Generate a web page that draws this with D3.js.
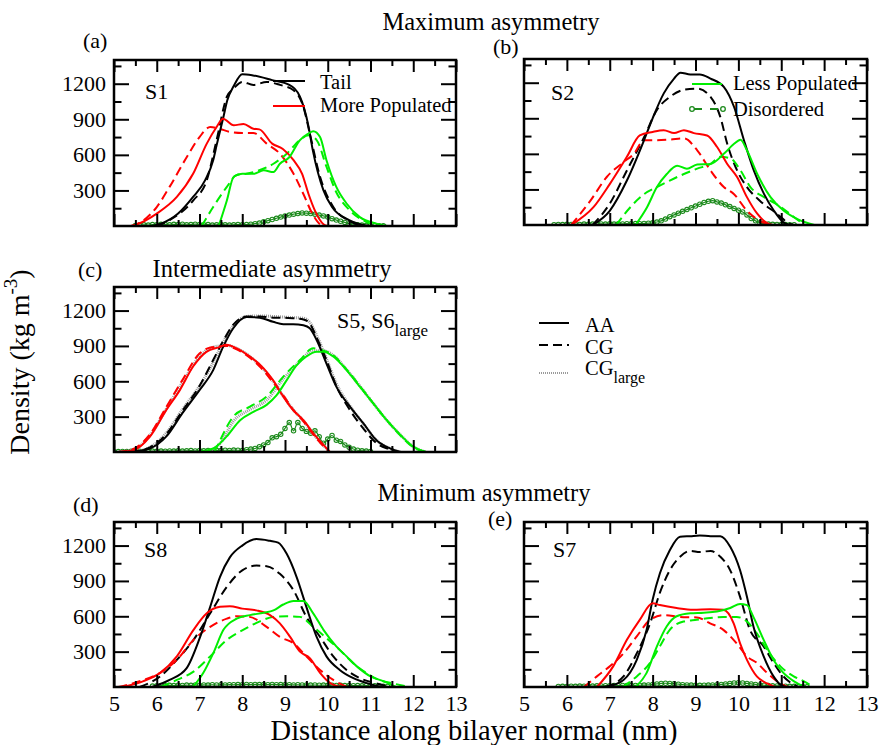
<!DOCTYPE html>
<html>
<head>
<meta charset="utf-8">
<script src="https://cdn.jsdelivr.net/npm/d3@7"></script>
<style>
  body { margin: 0; background: #fff; }
  svg { display: block; font-family: "Liberation Serif", "Times New Roman", serif; }
</style>
</head>
<body>
<svg id="chart" width="880" height="745"></svg>
<script>
// axis ticks
const xMajor = [5, 6, 7, 8, 9, 10, 11, 12, 13];
const xMinor = [5.5, 6.5, 7.5, 8.5, 9.5, 10.5, 11.5, 12.5];
const yMajor = [300, 600, 900, 1200];
const yMinor = [150, 450, 750, 1050, 1350];

// ---- (a) S1, maximum asymmetry
const aTailAA = [[5.9,0],[6.1,20],[6.5,105],[6.85,245],[7.13,385],[7.32,555],[7.4,680],[7.56,920],[7.65,1060],[7.8,1180],[8.0,1280],[8.25,1270],[8.7,1230],[9.1,1190],[9.35,1090],[9.55,840],[9.65,640],[9.9,300],[10.1,160],[10.5,50],[10.75,15],[11.0,0]];
const aTailCG = [[6.0,0],[6.3,50],[6.85,215],[7.17,385],[7.4,725],[7.64,1090],[7.8,1160],[8.0,1215],[8.26,1190],[8.57,1215],[8.88,1190],[9.2,1145],[9.43,1005],[9.58,780],[9.82,415],[10.13,160],[10.52,40],[10.8,0]];
const aMoreAA = [[5.4,0],[5.5,10],[6.0,105],[6.47,245],[6.85,440],[7.17,695],[7.4,835],[7.55,905],[7.8,850],[8.03,860],[8.26,820],[8.4,815],[8.7,695],[8.95,650],[9.2,555],[9.4,440],[9.55,270],[9.7,130],[9.9,15],[10.0,0]];
const aMoreCG = [[5.4,0],[5.5,10],[6.0,160],[6.3,330],[6.7,580],[7.0,750],[7.25,835],[7.47,820],[7.7,795],[8.0,785],[8.26,785],[8.57,695],[8.88,610],[9.2,440],[9.43,270],[9.66,90],[9.82,15],[9.95,0]];
const aLessAA = [[7.45,0],[7.64,215],[7.8,415],[8.0,440],[8.26,440],[8.5,470],[8.73,455],[8.88,525],[9.1,580],[9.35,725],[9.55,780],[9.66,800],[9.82,750],[9.97,555],[10.2,330],[10.44,190],[10.75,75],[11.14,20],[11.4,0]];
const aLessCG = [[7.05,0],[7.32,160],[7.64,330],[7.87,430],[8.1,440],[8.4,470],[8.73,525],[9.04,610],[9.35,725],[9.55,765],[9.74,725],[9.97,500],[10.2,285],[10.52,130],[10.9,35],[11.2,0]];
const aDis = [[5.5,5],[5.6,8],[5.7,10],[5.8,8],[5.9,12],[6.0,10],[6.1,14],[6.2,12],[6.3,10],[6.4,14],[6.5,12],[6.6,15],[6.7,10],[6.8,12],[6.9,15],[7.0,12],[7.1,10],[7.2,12],[7.3,8],[7.4,10],[7.5,12],[7.6,10],[7.7,8],[7.8,10],[7.9,12],[8.0,10],[8.1,12],[8.2,15],[8.3,20],[8.4,25],[8.5,35],[8.6,45],[8.7,55],[8.8,65],[8.9,75],[9.0,85],[9.1,92],[9.2,100],[9.3,105],[9.4,110],[9.5,108],[9.6,105],[9.7,100],[9.8,92],[9.9,85],[10.0,75],[10.1,62],[10.2,50],[10.3,40],[10.4,30],[10.5,20],[10.6,15],[10.7,10],[10.8,8],[10.9,6],[11.0,5],[11.1,4],[11.2,3],[11.3,2]];

// ---- (b) S2
const bTailAA = [[6.6,0],[7.0,120],[7.4,375],[7.8,715],[8.0,900],[8.26,1110],[8.5,1235],[8.65,1285],[8.88,1270],[9.1,1270],[9.35,1235],[9.66,1165],[9.9,995],[10.13,715],[10.36,460],[10.6,260],[10.83,120],[11.06,20],[11.2,0]];
const bTailCG = [[6.6,0],[7.0,180],[7.4,460],[7.8,740],[8.1,970],[8.4,1080],[8.73,1140],[9.04,1150],[9.35,1080],[9.58,910],[9.74,685],[9.97,460],[10.2,320],[10.5,205],[10.9,95],[11.2,10],[11.3,0]];
const bMoreAA = [[6.1,0],[6.62,150],[7.0,345],[7.4,575],[7.7,755],[8.0,785],[8.26,800],[8.5,775],[8.73,800],[8.96,775],[9.27,755],[9.5,660],[9.74,515],[9.97,405],[10.2,235],[10.44,95],[10.67,15],[10.8,0]];
const bMoreCG = [[6.1,0],[6.55,205],[6.93,405],[7.32,530],[7.56,600],[7.8,715],[8.1,715],[8.4,720],[8.73,730],[9.04,630],[9.35,460],[9.66,320],[9.9,260],[10.2,120],[10.5,35],[10.75,0]];
const bLessAA = [[7.6,0],[7.87,150],[8.1,320],[8.33,430],[8.57,500],[8.8,475],[9.04,510],[9.35,515],[9.66,600],[9.9,685],[10.05,720],[10.2,630],[10.44,430],[10.75,235],[11.06,120],[11.38,50],[11.77,0]];
const bLessCG = [[7.15,0],[7.48,150],[7.8,260],[8.1,320],[8.4,375],[8.73,430],[9.04,475],[9.35,515],[9.58,575],[9.82,560],[10.05,460],[10.28,320],[10.6,235],[11.0,150],[11.3,65],[11.55,0]];
const bDis = [[5.7,3],[5.8,5],[5.9,4],[6.0,6],[6.1,5],[6.2,7],[6.3,5],[6.4,8],[6.5,6],[6.6,8],[6.7,7],[6.8,9],[6.9,8],[7.0,10],[7.1,8],[7.2,10],[7.3,9],[7.4,11],[7.5,10],[7.6,12],[7.7,11],[7.8,13],[7.9,15],[8.0,18],[8.1,25],[8.2,35],[8.3,50],[8.4,70],[8.5,85],[8.6,100],[8.7,115],[8.8,130],[8.9,145],[9.0,160],[9.1,175],[9.2,190],[9.3,200],[9.4,205],[9.5,195],[9.6,185],[9.7,170],[9.8,155],[9.9,140],[10.0,125],[10.1,110],[10.2,85],[10.3,55],[10.4,35],[10.5,20],[10.6,12],[10.7,8],[10.8,6],[10.9,5],[11.0,4],[11.1,4],[11.2,3],[11.3,2]];

// ---- (c) S5, S6large, intermediate asymmetry
const cTailAA = [[5.4,0],[5.84,30],[6.22,130],[6.6,330],[7.0,525],[7.32,695],[7.55,890],[7.79,1050],[8.1,1145],[8.41,1140],[8.72,1105],[8.96,1085],[9.19,1085],[9.43,1075],[9.58,1050],[9.74,950],[9.97,750],[10.2,555],[10.52,385],[10.83,245],[11.14,100],[11.46,30],[11.7,0]];
const cTailCG = [[5.4,0],[5.84,40],[6.22,150],[6.6,350],[7.0,560],[7.32,780],[7.55,940],[7.79,1080],[8.1,1150],[8.41,1150],[8.72,1140],[8.96,1140],[9.19,1135],[9.43,1125],[9.58,1090],[9.74,970],[9.97,780],[10.2,560],[10.52,355],[10.83,200],[11.14,75],[11.46,20],[11.6,0]];
const cTailLG = [[5.4,0],[5.84,40],[6.22,160],[6.6,360],[7.0,560],[7.32,760],[7.55,930],[7.79,1070],[8.1,1150],[8.41,1155],[8.72,1150],[8.96,1145],[9.19,1140],[9.43,1135],[9.58,1100],[9.74,990],[9.97,790],[10.2,580],[10.52,390],[10.83,240],[11.14,100],[11.46,30],[11.7,0]];
const cMoreAA = [[5.1,0],[5.45,15],[5.84,130],[6.22,355],[6.54,525],[6.85,725],[7.16,850],[7.47,890],[7.63,910],[7.87,880],[8.18,810],[8.5,710],[8.72,610],[8.96,470],[9.19,355],[9.43,270],[9.66,160],[9.9,60],[10.05,0]];
const cMoreCG = [[5.1,0],[5.45,25],[5.84,150],[6.22,380],[6.6,610],[7.0,835],[7.24,885],[7.47,895],[7.63,900],[7.87,870],[8.18,800],[8.5,690],[8.72,590],[8.96,480],[9.19,360],[9.43,260],[9.66,150],[9.9,50],[10.05,0]];
const cMoreLG = [[5.1,0],[5.45,20],[5.84,140],[6.22,365],[6.6,590],[7.0,810],[7.24,880],[7.47,900],[7.63,905],[7.87,880],[8.18,810],[8.5,700],[8.72,600],[8.96,475],[9.19,360],[9.43,265],[9.66,155],[9.9,55],[10.05,0]];
const cLessAA = [[6.95,0],[7.32,30],[7.63,130],[7.95,270],[8.26,340],[8.57,400],[8.8,480],[9.04,610],[9.27,735],[9.5,810],[9.74,850],[9.9,850],[10.13,810],[10.44,695],[10.75,555],[11.07,410],[11.38,270],[11.7,145],[12.0,45],[12.3,0]];
const cLessCG = [[7.35,0],[7.45,75],[7.79,300],[8.18,385],[8.57,470],[8.96,640],[9.35,780],[9.66,880],[9.9,860],[10.13,820],[10.44,700],[10.75,560],[11.07,410],[11.38,270],[11.7,140],[12.0,40],[12.3,0]];
const cLessLG = [[7.2,0],[7.5,80],[7.79,260],[8.18,360],[8.57,440],[8.96,620],[9.35,770],[9.66,860],[9.9,860],[10.13,820],[10.44,700],[10.75,560],[11.07,410],[11.38,270],[11.7,145],[12.0,45],[12.3,0]];
const cDis = [[5.0,3],[5.1,4],[5.2,5],[5.3,4],[5.4,6],[5.5,5],[5.6,7],[5.7,5],[5.8,6],[5.9,8],[6.0,6],[6.1,8],[6.2,7],[6.3,9],[6.4,8],[6.5,10],[6.6,8],[6.7,10],[6.8,12],[6.9,9],[7.0,12],[7.1,10],[7.2,13],[7.3,11],[7.4,14],[7.5,12],[7.6,15],[7.7,13],[7.8,16],[7.9,15],[8.0,12],[8.1,20],[8.2,25],[8.3,30],[8.4,45],[8.5,60],[8.6,80],[8.7,120],[8.8,130],[8.9,150],[9.0,200],[9.1,250],[9.2,180],[9.3,250],[9.4,200],[9.5,175],[9.6,160],[9.7,180],[9.8,130],[9.9,75],[10.0,110],[10.1,140],[10.2,100],[10.3,90],[10.4,60],[10.5,40],[10.6,25],[10.7,15],[10.8,10],[10.9,8],[11.0,5]];

// ---- (d) S8, minimum asymmetry
const dTailAA = [[5.9,0],[6.3,60],[6.7,160],[7.0,410],[7.25,680],[7.48,935],[7.71,1100],[8.0,1200],[8.33,1255],[8.65,1240],[8.84,1225],[9.04,1130],[9.27,935],[9.5,680],[9.74,425],[9.97,260],[10.28,145],[10.6,75],[10.9,35],[11.2,5],[11.3,0]];
const dTailCG = [[5.6,0],[6.08,90],[6.47,230],[6.86,400],[7.25,625],[7.64,850],[8.0,990],[8.33,1030],[8.57,1025],[8.88,960],[9.2,820],[9.5,595],[9.82,425],[10.13,260],[10.44,145],[10.75,75],[11.14,30],[11.5,0]];
const dMoreAA = [[5.2,0],[5.69,50],[6.08,120],[6.47,260],[6.86,485],[7.17,625],[7.48,680],[7.71,685],[8.0,665],[8.33,650],[8.65,610],[8.88,540],[9.12,425],[9.35,300],[9.58,245],[9.82,120],[10.05,35],[10.3,0]];
const dMoreCG = [[5.1,0],[5.69,60],[6.08,120],[6.47,230],[6.86,400],[7.25,510],[7.64,580],[7.87,600],[8.17,595],[8.57,510],[8.88,425],[9.2,370],[9.5,260],[9.82,145],[10.13,60],[10.45,0]];
const dLessAA = [[6.85,0],[7.09,120],[7.32,285],[7.56,485],[7.87,580],[8.18,610],[8.5,630],[8.73,650],[8.96,700],[9.2,730],[9.43,730],[9.66,625],[9.9,485],[10.2,345],[10.44,260],[10.68,175],[11.0,90],[11.3,50],[11.6,0]];
const dLessCG = [[6.1,0],[6.47,60],[6.86,130],[7.25,260],[7.64,400],[8.02,485],[8.4,555],[8.73,595],[9.04,600],[9.35,595],[9.66,510],[9.97,415],[10.28,315],[10.6,200],[10.9,120],[11.2,60],[11.53,30],[11.9,0]];
const dDis = [[5.9,8],[6.0,10],[6.1,12],[6.2,10],[6.3,14],[6.4,12],[6.5,15],[6.6,13],[6.7,16],[6.8,14],[6.9,17],[7.0,15],[7.1,18],[7.2,16],[7.3,19],[7.4,17],[7.5,20],[7.6,18],[7.7,20],[7.8,19],[7.9,21],[8.0,20],[8.1,22],[8.2,20],[8.3,22],[8.4,21],[8.5,22],[8.6,20],[8.7,22],[8.8,20],[8.9,21],[9.0,19],[9.1,20],[9.2,18],[9.3,19],[9.4,17],[9.5,18],[9.6,16],[9.7,17],[9.8,15],[9.9,16],[10.0,14],[10.1,15],[10.2,13],[10.3,14],[10.4,12],[10.5,13],[10.6,11],[10.7,12],[10.8,10],[10.9,11],[11.0,9],[11.1,10],[11.2,8],[11.3,7],[11.4,5]];

// ---- (e) S7
const eTailAA = [[6.9,0],[7.32,60],[7.63,230],[7.86,485],[8.0,740],[8.17,965],[8.4,1160],[8.64,1275],[8.88,1280],[9.1,1285],[9.35,1280],[9.58,1280],[9.81,1190],[10.04,990],[10.2,765],[10.35,515],[10.59,260],[10.82,90],[10.98,20],[11.1,0]];
const eTailCG = [[6.9,0],[7.32,90],[7.63,285],[7.94,540],[8.17,800],[8.4,990],[8.64,1105],[8.88,1155],[9.1,1145],[9.35,1155],[9.58,1105],[9.81,990],[10.04,765],[10.27,485],[10.59,345],[10.82,205],[11.05,90],[11.29,20],[11.4,0]];
const eMoreAA = [[6.7,0],[7.08,175],[7.4,400],[7.7,570],[8.0,710],[8.17,695],[8.56,670],[8.95,655],[9.34,660],[9.65,655],[9.89,540],[10.04,370],[10.2,230],[10.43,90],[10.67,30],[10.85,0]];
const eMoreCG = [[6.4,0],[6.7,90],[7.0,175],[7.32,285],[7.63,430],[7.94,570],[8.25,610],[8.64,595],[9.03,590],[9.34,540],[9.65,485],[9.96,370],[10.2,260],[10.43,205],[10.67,120],[10.98,30],[11.15,0]];
const eLessAA = [[7.6,0],[7.86,120],[8.1,345],[8.33,515],[8.56,600],[8.88,625],[9.19,630],[9.5,640],[9.81,670],[10.04,705],[10.2,695],[10.35,595],[10.59,400],[10.82,230],[11.05,120],[11.29,50],[11.55,0]];
const eLessCG = [[7.3,0],[7.63,90],[7.94,205],[8.17,345],[8.4,485],[8.72,555],[9.03,570],[9.34,585],[9.65,595],[9.96,595],[10.2,555],[10.43,455],[10.67,315],[10.98,175],[11.29,90],[11.52,50],[11.75,0]];
const eDis = [[5.8,5],[5.9,6],[6.0,5],[6.1,7],[6.2,6],[6.3,8],[6.4,7],[6.5,9],[6.6,8],[6.7,10],[6.8,9],[6.9,11],[7.0,10],[7.1,12],[7.2,11],[7.3,13],[7.4,12],[7.5,14],[7.6,13],[7.7,15],[7.8,16],[7.9,18],[8.0,22],[8.1,26],[8.2,30],[8.3,32],[8.4,30],[8.5,28],[8.6,24],[8.7,20],[8.8,18],[8.9,16],[9.0,15],[9.1,14],[9.2,15],[9.3,16],[9.4,18],[9.5,20],[9.6,22],[9.7,26],[9.8,30],[9.9,34],[10.0,36],[10.1,34],[10.2,30],[10.3,26],[10.4,22],[10.5,18],[10.6,15],[10.7,12],[10.8,10],[10.9,9],[11.0,8],[11.1,7],[11.2,6],[11.3,6],[11.4,5],[11.5,4],[11.6,3]];

// colours and line styles
const colors = { tail: "#000000", more: "#ff0000", less: "#00ee00", dis: "#1b8a1b", large: "#9a9a9a" };
const dashCG = "9 5";
const serif = '"Liberation Serif", "Times New Roman", serif';

// panel layout (pixel boxes)
const panels = [
  { box: [114, 60, 456, 226], yLabels: true,  xLabels: false, label: "(a)", labelAt: [83, 48],  name: "S1", nameAt: [145, 99],
    aa: [aTailAA, aMoreAA, aLessAA], cg: [aTailCG, aMoreCG, aLessCG], dis: aDis },
  { box: [524, 59, 867, 225], yLabels: false, xLabels: false, label: "(b)", labelAt: [493, 54], name: "S2", nameAt: [551, 100],
    aa: [bTailAA, bMoreAA, bLessAA], cg: [bTailCG, bMoreCG, bLessCG], dis: bDis },
  { box: [114, 287, 456, 452], yLabels: true, xLabels: false, label: "(c)", labelAt: [78, 277], name: "S5, S6", sub: "large", nameAt: [337, 328],
    aa: [cTailAA, cMoreAA, cLessAA], cg: [cTailCG, cMoreCG, cLessCG], lg: [cTailLG, cMoreLG, cLessLG], dis: cDis },
  { box: [114, 522, 456, 687], yLabels: true, xLabels: true, label: "(d)", labelAt: [73, 512], name: "S8", nameAt: [144, 557],
    aa: [dTailAA, dMoreAA, dLessAA], cg: [dTailCG, dMoreCG, dLessCG], dis: dDis },
  { box: [524, 522, 867, 687], yLabels: false, xLabels: true, label: "(e)", labelAt: [488, 526], name: "S7", nameAt: [553, 557],
    aa: [eTailAA, eMoreAA, eLessAA], cg: [eTailCG, eMoreCG, eLessCG], dis: eDis }
];
const seriesColor = [colors.tail, colors.more, colors.less];

const svg = d3.select("#chart");
svg.append("rect").attr("width", 880).attr("height", 745).attr("fill", "#fff");

function drawPanel(p, i) {
  const [x0, y0, x1, y1] = p.box;
  const x = d3.scaleLinear().domain([5, 13]).range([x0, x1]);
  const y = d3.scaleLinear().domain([0, 1400]).range([y1, y0]);
  const g = svg.append("g");

  g.append("clipPath").attr("id", "clip" + i)
    .append("rect").attr("x", x0).attr("y", y0).attr("width", x1 - x0).attr("height", y1 - y0);

  const line = d3.line().x(d => x(d[0])).y(d => y(d[1])).curve(d3.curveMonotoneX);
  const plot = g.append("g").attr("clip-path", `url(#clip${i})`);

  // disordered: thin line with open circles
  plot.append("path").datum(p.dis).attr("d", line)
    .attr("fill", "none").attr("stroke", colors.dis).attr("stroke-width", 1.2);
  plot.selectAll("circle.dis").data(p.dis).enter().append("circle")
    .attr("class", "dis").attr("cx", d => x(d[0])).attr("cy", d => y(d[1])).attr("r", 2.2)
    .attr("fill", "none").attr("stroke", colors.dis).attr("stroke-width", 1.1);

  // large CG system: grey dotted band under the other curves
  if (p.lg) {
    p.lg.forEach(s => {
      plot.append("path").datum(s).attr("d", line).attr("fill", "none")
        .attr("stroke", colors.large).attr("stroke-width", 3).attr("stroke-dasharray", "1 1");
    });
  }
  p.cg.forEach((s, k) => {
    plot.append("path").datum(s).attr("d", line).attr("fill", "none")
      .attr("stroke", seriesColor[k]).attr("stroke-width", 2).attr("stroke-dasharray", dashCG);
  });
  p.aa.forEach((s, k) => {
    plot.append("path").datum(s).attr("d", line).attr("fill", "none")
      .attr("stroke", seriesColor[k]).attr("stroke-width", 2);
  });

  // axes with inward ticks on all four sides
  const fmt = d3.format("d");
  const axes = [
    [d3.axisBottom(x).tickValues(xMajor).tickSize(-12), `translate(0,${y1})`, p.xLabels],
    [d3.axisBottom(x).tickValues(xMinor).tickSize(-6), `translate(0,${y1})`, false],
    [d3.axisTop(x).tickValues(xMajor).tickSize(-12), `translate(0,${y0})`, false],
    [d3.axisTop(x).tickValues(xMinor).tickSize(-6), `translate(0,${y0})`, false],
    [d3.axisLeft(y).tickValues(yMajor).tickSize(-15), `translate(${x0},0)`, p.yLabels],
    [d3.axisLeft(y).tickValues(yMinor).tickSize(-7.5), `translate(${x0},0)`, false],
    [d3.axisRight(y).tickValues(yMajor).tickSize(-15), `translate(${x1},0)`, false],
    [d3.axisRight(y).tickValues(yMinor).tickSize(-7.5), `translate(${x1},0)`, false]
  ];
  axes.forEach(([ax, tr, labels]) => {
    const a = g.append("g").attr("transform", tr)
      .call(labels ? ax.tickPadding(8).tickFormat(fmt) : ax.tickFormat(""))
      .attr("font-family", serif).attr("font-size", 22);
    a.select(".domain").remove();
    a.selectAll("line").attr("stroke", "#000").attr("stroke-width", 2);
    a.selectAll("text").attr("fill", "#000");
  });

  g.append("rect").attr("x", x0).attr("y", y0).attr("width", x1 - x0).attr("height", y1 - y0)
    .attr("fill", "none").attr("stroke", "#000").attr("stroke-width", 2.5);

  g.append("text").attr("x", p.labelAt[0]).attr("y", p.labelAt[1]).style("font-size", "22px").text(p.label);
  const nm = g.append("text").attr("x", p.nameAt[0]).attr("y", p.nameAt[1]).style("font-size", "22px").text(p.name);
  if (p.sub) nm.append("tspan").attr("dy", 8).style("font-size", "17px").text(p.sub);
}
panels.forEach(drawPanel);

// section titles
const titles = [["Maximum asymmetry", 491, 30], ["Intermediate asymmetry", 272, 277], ["Minimum asymmetry", 484, 501]];
titles.forEach(t => svg.append("text").attr("x", t[1]).attr("y", t[2]).attr("text-anchor", "middle")
  .style("font-size", "24.5px").text(t[0]));

// axis titles
svg.append("text").attr("x", 474).attr("y", 740).attr("text-anchor", "middle")
  .style("font-size", "28.5px").text("Distance along bilayer normal (nm)");
const yt = svg.append("text").attr("transform", "translate(29,362) rotate(-90)").attr("text-anchor", "middle")
  .style("font-size", "28px").text("Density (kg m");
yt.append("tspan").attr("dy", -12).style("font-size", "19px").text("-3");
yt.append("tspan").attr("dy", 12).text(")");

// legends
function legLine(x1, x2, yy, color, dash, width) {
  svg.append("line").attr("x1", x1).attr("x2", x2).attr("y1", yy).attr("y2", yy)
    .attr("stroke", color).attr("stroke-width", width || 2).attr("stroke-dasharray", dash || null);
}
function legText(xx, yy, txt, sub) {
  const t = svg.append("text").attr("x", xx).attr("y", yy).style("font-size", "20.5px").text(txt);
  if (sub) t.append("tspan").attr("dy", 8).style("font-size", "16px").text(sub);
}
legLine(273, 305, 81, colors.tail);   legText(320, 89, "Tail");
legLine(273, 305, 106, colors.more);  legText(320, 112, "More Populated");
legLine(692, 722, 84, colors.less);   legText(733, 90, "Less Populated");
legLine(694, 721, 109, colors.dis, "8 8", 2);
[692, 723].forEach(cx => svg.append("circle").attr("cx", cx).attr("cy", 109).attr("r", 2.3)
  .attr("fill", "none").attr("stroke", colors.dis).attr("stroke-width", 1.3));
legText(733, 116, "Disordered");

legLine(539, 569, 323, "#000");                 legText(585, 332, "AA");
legLine(539, 569, 345, "#000", dashCG);         legText(585, 354, "CG");
legLine(539, 569, 373, colors.large, "1 1", 2); legText(585, 375, "CG", "large");
</script>
</body>
</html>
